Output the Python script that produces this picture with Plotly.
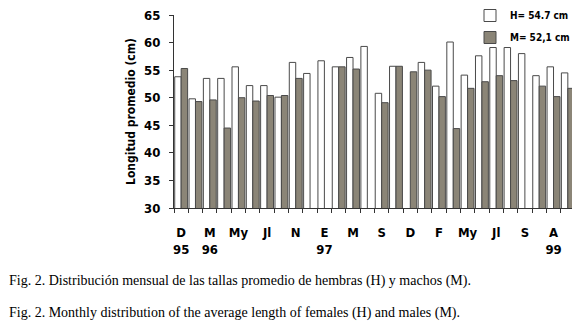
import plotly.graph_objects as go

categories = [f"c{i}" for i in range(1, 29)]
tick_labels = ["D<br>95", "", "M<br>96", "", "My", "", "Jl", "", "N", "", "E<br>97", "",
               "M", "", "S", "", "D", "", "F", "", "My", "", "Jl", "", "S", "", "A<br>99", ""]
hembras = [53.8, 49.8, 53.5, 53.5, 55.6, 52.2, 52.2, 50.1, 56.4, 54.4, 56.7, 55.6, 57.3, 59.3,
           50.8, 55.7, None, 56.4, 52.1, 60.1, 54.1, 57.6, 59.1, 59.1, 58.0, 54.0, 55.6, 54.5]
machos = [55.3, 49.3, 49.6, 44.5, 50.0, 49.4, 50.4, 50.4, 53.5, None, None, 55.6, 55.2, None,
          49.1, 55.7, 54.7, 55.0, 50.2, 44.4, 51.7, 52.9, 54.0, 53.1, None, 52.1, 50.2, 51.7]

FONT = "DejaVu Sans Condensed, Open Sans, sans-serif"
SERIF = "Liberation Serif, Times New Roman, serif"

fig = go.Figure()
fig.add_trace(go.Bar(x=categories, y=hembras, name="H= 54.7 cm", legendgroup="h",
                     marker=dict(color="white", line=dict(color="#4a4a4a", width=1))))
fig.add_trace(go.Bar(x=categories, y=machos, name="M= 52,1 cm", legendgroup="m",
                     marker=dict(color="#8b8577", line=dict(color="#4a4a4a", width=1))))

# page body has an 8px margin, so figure coordinates = screen - 8
L, T = 166, 7
PW, PH = 401, 193
W, H = 572, 321

fig.update_layout(
    width=W, height=H,
    margin=dict(l=L, r=W - L - PW, t=T, b=H - T - PH, autoexpand=False),
    paper_bgcolor="white", plot_bgcolor="white",
    barmode="group", bargap=0.1, bargroupgap=0,
    font=dict(family=FONT, color="black"),
    showlegend=True,
    legend=dict(x=(462 - L) / PW, y=1 + 14 / PH, xanchor="left", yanchor="top",
                font=dict(size=10, family=FONT, weight="bold"),
                bgcolor="rgba(0,0,0,0)", itemwidth=30, tracegroupgap=3),
    xaxis=dict(type="category", categoryorder="array", categoryarray=categories,
               tickmode="array", tickvals=categories, ticktext=tick_labels,
               tickson="boundaries", ticks="outside", ticklen=4, tickcolor="#333",
               showline=True, linecolor="#333", linewidth=1, showgrid=False,
               tickangle=0, ticklabelstandoff=12, automargin=False,
               tickfont=dict(size=13, family=FONT, weight="bold")),
    yaxis=dict(range=[30, 65], tickmode="array", tickvals=[30, 35, 40, 45, 50, 55, 60, 65],
               ticks="outside", ticklen=4, tickcolor="#333", ticklabelstandoff=6,
               ticklabeloverflow="allow",
               showline=True, linecolor="#333", linewidth=1, showgrid=False, zeroline=False,
               automargin=False,
               tickfont=dict(size=13, family=FONT, weight="bold"),
               title=dict(text="Longitud promedio (cm)", standoff=5,
                          font=dict(size=12, family=FONT, weight="bold"))),
)

fig.add_annotation(text="Fig. 2. Distribución mensual de las tallas promedio de hembras (H) y machos (M).",
                   xref="paper", yref="paper", x=(-1 - L) / PW, y=-(273 - T - PH) / PH,
                   xanchor="left", yanchor="middle", showarrow=False,
                   font=dict(size=14, family=SERIF, color="black"))
fig.add_annotation(text="Fig. 2. Monthly distribution of the average length of females (H) and males (M).",
                   xref="paper", yref="paper", x=(-1 - L) / PW, y=-(305 - T - PH) / PH,
                   xanchor="left", yanchor="middle", showarrow=False,
                   font=dict(size=14, family=SERIF, color="black"))

fig.write_html("out.html")
